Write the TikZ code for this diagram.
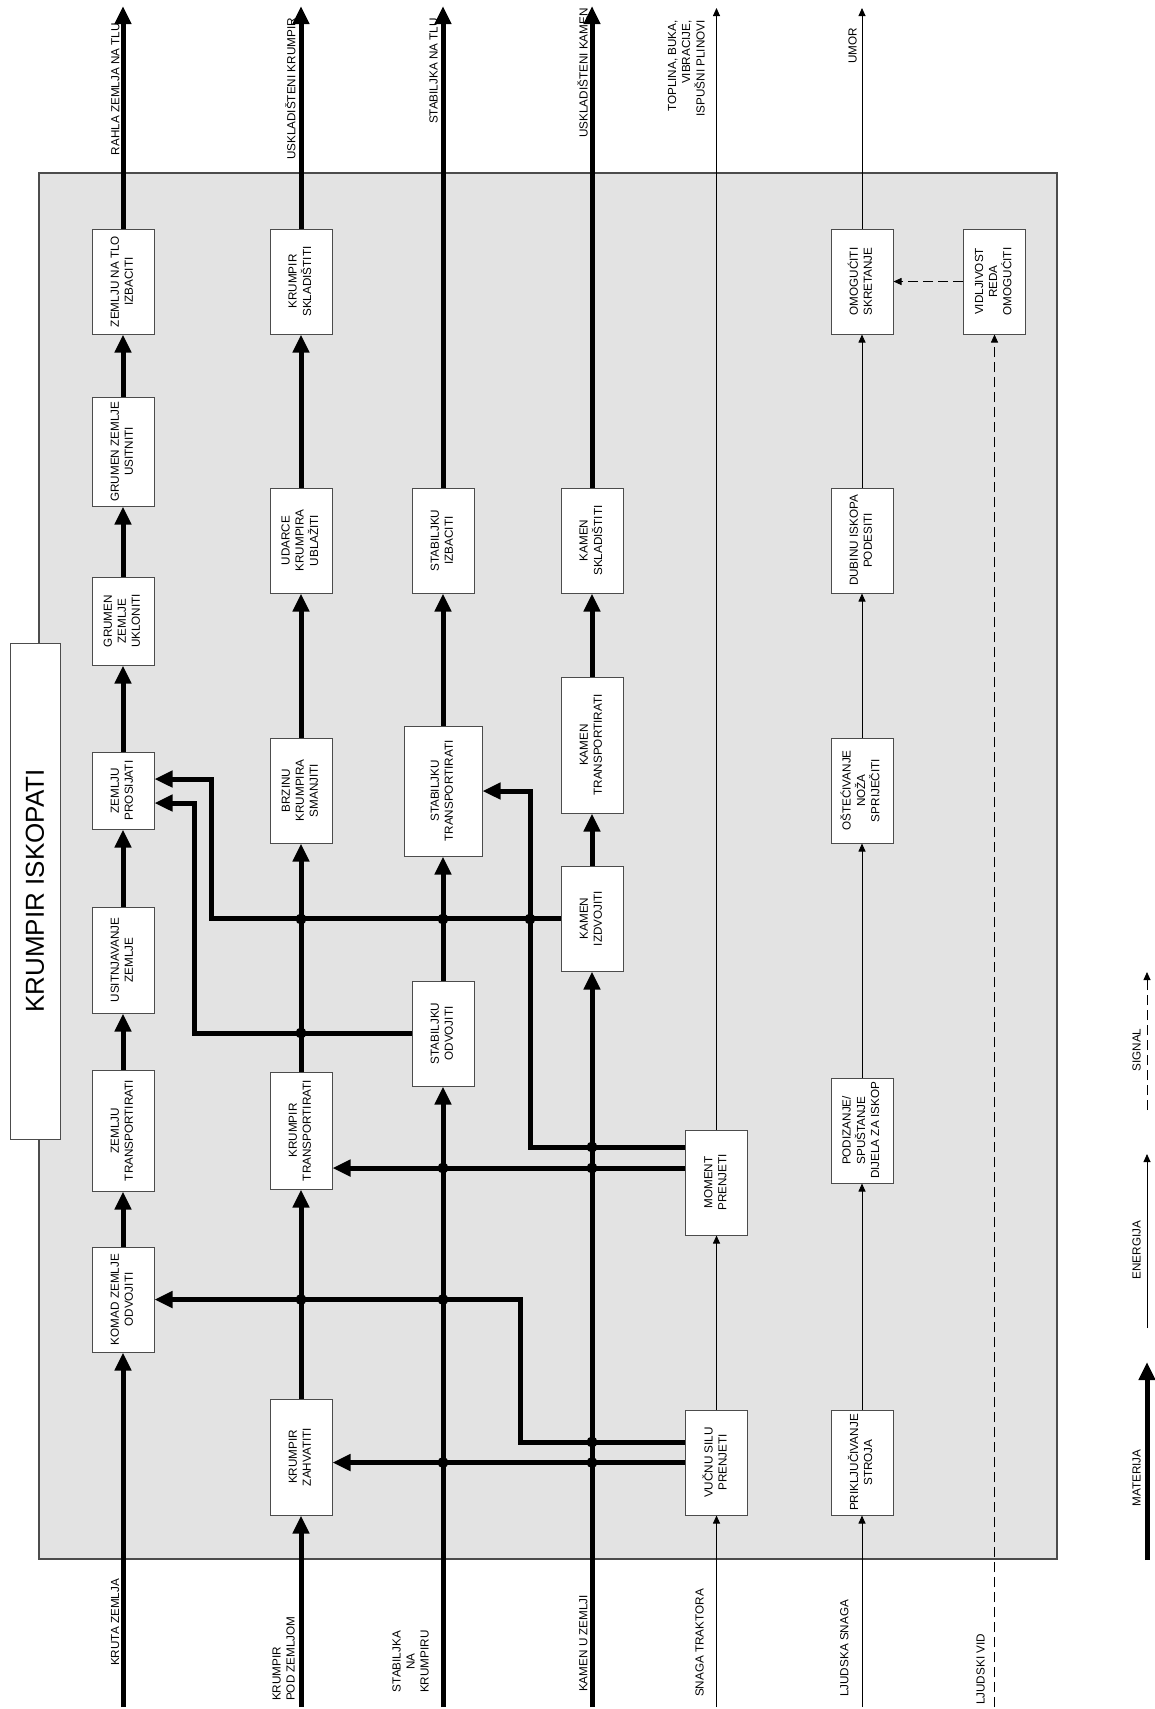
\documentclass[tikz,border=0pt]{standalone}
\usepackage{fontspec}
\setmainfont{Liberation Sans}
\usetikzlibrary{arrows.meta}
\definecolor{panel}{gray}{0.89}
\definecolor{edge}{gray}{0.3}
\newcommand{\rt}[2][c]{\rotatebox{90}{\begin{tabular}{@{}#1@{}}#2\end{tabular}}}
\tikzset{
  fbox/.style={draw=edge, fill=white, line width=1pt, inner sep=0pt, minimum width=62pt},
  mat/.style={line width=5pt, -{Triangle[length=18pt,width=16pt]}},
  en/.style={line width=0.9pt, -{Triangle[length=8pt,width=7pt]}},
  sig/.style={line width=0.9pt, dash pattern=on 10pt off 5pt, -{Triangle[length=8pt,width=7pt]}},
  lab/.style={inner sep=0pt}
}
\begin{document}
\begin{tikzpicture}[x=1pt,y=-1pt, every node/.style={font=\fontsize{11.7}{14}\selectfont}]
    \useasboundingbox (0,0) rectangle (1155,1709);
    \draw[draw=edge, line width=1.2pt, fill=panel] (39,173) rectangle (1057,1559);
    \node[fbox, minimum width=50pt, minimum height=496pt, font=\fontsize{26}{30}\selectfont] (title) at (35,891) {\rotatebox{90}{KRUMPIR ISKOPATI}};
    % function boxes: name/x/top/bottom/width/text
    \foreach \n/\x/\ya/\yb/\w/\txt in {
        z1/123/229/334/62/{ZEMLJU NA TLO\\IZBACITI},
        z2/123/397/506/62/{GRUMEN ZEMLJE\\USITNITI},
        z3/123/577/665/62/{GRUMEN\\ZEMLJE\\UKLONITI},
        z4/123/752/829/62/{ZEMLJU\\PROSIJATI},
        z5/123/907/1013/62/{USITNJAVANJE\\ZEMLJE},
        z6/123/1070/1191/62/{ZEMLJU\\TRANSPORTIRATI},
        z7/123/1247/1352/62/{KOMAD ZEMLJE\\ODVOJITI},
        k1/301/229/334/62/{KRUMPIR\\SKLADIŠTITI},
        k2/301/488/593/62/{UDARCE\\KRUMPIRA\\UBLAŽITI},
        k3/301/738/843/62/{BRZINU\\KRUMPIRA\\SMANJITI},
        k4/301/1072/1189/62/{KRUMPIR\\TRANSPORTIRATI},
        k5/301/1399/1515/62/{KRUMPIR\\ZAHVATITI},
        s1/443/488/593/62/{STABILJKU\\IZBACITI},
        s2/443/726/856/78/{STABILJKU\\TRANSPORTIRATI},
        s3/443/981/1086/62/{STABILJKU\\ODVOJITI},
        c1/592/488/593/62/{KAMEN\\SKLADIŠTITI},
        c2/592/677/813/62/{KAMEN\\TRANSPORTIRATI},
        c3/592/866/971/62/{KAMEN\\IZDVOJITI},
        t1/716.5/1410/1515/62/{VUČNU SILU\\PRENJETI},
        t2/716.5/1130/1235/62/{MOMENT\\PRENJETI},
        l1/862/1410/1515/62/{PRIKLJUČIVANJE\\STROJA},
        l2/862/1078/1183/62/{PODIZANJE/\\SPUŠTANJE\\DIJELA ZA ISKOP},
        l3/862/738/843/62/{OŠTEĆIVANJE\\NOŽA\\SPRIJEČITI},
        l4/862/488/593/62/{DUBINU ISKOPA\\PODESITI},
        l5/862/229/334/62/{OMOGUĆITI\\SKRETANJE},
        v1/994.5/229/334/62/{VIDLJIVOST\\REDA\\OMOGUĆITI}}
        \node[fbox, minimum width=\w pt, minimum height={(\yb-\ya)*1pt}] (\n) at (\x,{(\ya+\yb)/2}) {\rt{\txt}};

    % free ends
    \coordinate (inZ) at (123,1707);   \coordinate (outZ) at (123,6);
    \coordinate (inK) at (301,1707);   \coordinate (outK) at (301,6);
    \coordinate (inS) at (443,1707);   \coordinate (outS) at (443,6);
    \coordinate (inC) at (592,1707);   \coordinate (outC) at (592,6);
    \coordinate (inT) at (716.5,1707); \coordinate (outT) at (716.5,8);
    \coordinate (inL) at (862,1707);   \coordinate (outL) at (862,8);
    \coordinate (inV) at (994.5,1707);

    % flows along the columns
    \foreach \a/\b in {z7/z6,z6/z5,z5/z4,z4/z3,z3/z2,z2/z1,k5/k4,k4/k3,k3/k2,k2/k1,s3/s2,s2/s1,c3/c2,c2/c1}
        \draw[mat] (\a.north) -- (\b.south);
    \foreach \a/\b in {t1/t2,l1/l2,l2/l3,l3/l4,l4/l5}
        \draw[en] (\a.north) -- (\b.south);
    \draw[mat] (inZ) -- (z7.south);  \draw[mat] (z1.north) -- (outZ);
    \draw[mat] (inK) -- (k5.south);  \draw[mat] (k1.north) -- (outK);
    \draw[mat] (inS) -- (s3.south);  \draw[mat] (s1.north) -- (outS);
    \draw[mat] (inC) -- (c3.south);  \draw[mat] (c1.north) -- (outC);
    \draw[en] (inT) -- (t1.south);   \draw[en] (t2.north) -- (outT);
    \draw[en] (inL) -- (l1.south);   \draw[en] (l5.north) -- (outL);
    \draw[sig] (inV) -- (v1.south);
    \draw[sig] (v1.west) -- (l5.east);

    % cross connections
    \draw[mat] (c3.west) -| (211,779) -- ([yshift=11.5pt]z4.east);
    \draw[mat] (s3.west) -| (194,803) -- ([yshift=-12.5pt]z4.east);
    \draw[mat] ([yshift=35.5pt]t2.west) -| (530,791) -- (s2.east);
    \draw[mat] ([yshift=14.5pt]t2.west) -- ([yshift=-37.5pt]k4.east);
    \draw[mat] ([yshift=20.5pt]t1.west) -| (520,1299.5) -- (z7.east);
    \draw[mat] (t1.west) -- (k5.east |- t1.west);
    \foreach \p in {(301,919),(443,919),(530,919),(301,1033),(592,1147),(443,1168),(592,1168),
                    (301,1299.5),(443,1299.5),(592,1442),(443,1462.5),(592,1462.5)}
        \fill \p circle (5.5);

    % inputs and outputs
    \node[lab, anchor=north east] (oZ) at (123.7,23) {\rt{RAHLA ZEMLJA NA TLU}};
    \node[lab, anchor=north east] (oK) at (299.7,18) {\rt{USKLADIŠTENI KRUMPIR}};
    \node[lab, anchor=north east] (oS) at (442,18) {\rt{STABILJKA NA TLU}};
    \node[lab, anchor=north east] (oC) at (592,8) {\rt{USKLADIŠTENI KAMEN}};
    \node[lab, anchor=north east] (oT) at (709,20) {\rt[r]{TOPLINA, BUKA,\\VIBRACIJE,\\ISPUŠNI PLINOVI}};
    \node[lab, anchor=north east] (oL) at (861,28) {\rt{UMOR}};
    \node[lab, anchor=south east] (iZ) at (123.6,1666) {\rt{KRUTA ZEMLJA}};
    \node[lab, anchor=south east] (iK) at (299,1701) {\rt[l]{KRUMPIR\\POD ZEMLJOM}};
    \node[lab, anchor=south east] (iS) at (433,1693) {\rt{STABILJKA\\NA\\KRUMPIRU}};
    \node[lab, anchor=south east] (iC) at (591.7,1692) {\rt{KAMEN U ZEMLJI}};
    \node[lab, anchor=south east] (iT) at (708,1697) {\rt{SNAGA TRAKTORA}};
    \node[lab, anchor=south east] (iL) at (852.7,1697) {\rt{LJUDSKA SNAGA}};
    \node[lab, anchor=south east] (iV) at (989,1705) {\rt{LJUDSKI VID}};

    % legend
    \coordinate (lm0) at (1147,1560); \coordinate (lm1) at (1147,1362);
    \coordinate (le0) at (1147,1328); \coordinate (le1) at (1147,1154);
    \coordinate (ls0) at (1147,1110); \coordinate (ls1) at (1147,972);
    \draw[mat] (lm0) -- (lm1);
    \draw[en] (le0) -- (le1);
    \draw[sig] (ls0) -- (ls1);
    \node[lab, anchor=east] (lgM) at (1145,1478) {\rt{MATERIJA}};
    \node[lab, anchor=east] (lgE) at (1145,1250) {\rt{ENERGIJA}};
    \node[lab, anchor=east] (lgS) at (1145,1050) {\rt{SIGNAL}};
\end{tikzpicture}
\end{document}
